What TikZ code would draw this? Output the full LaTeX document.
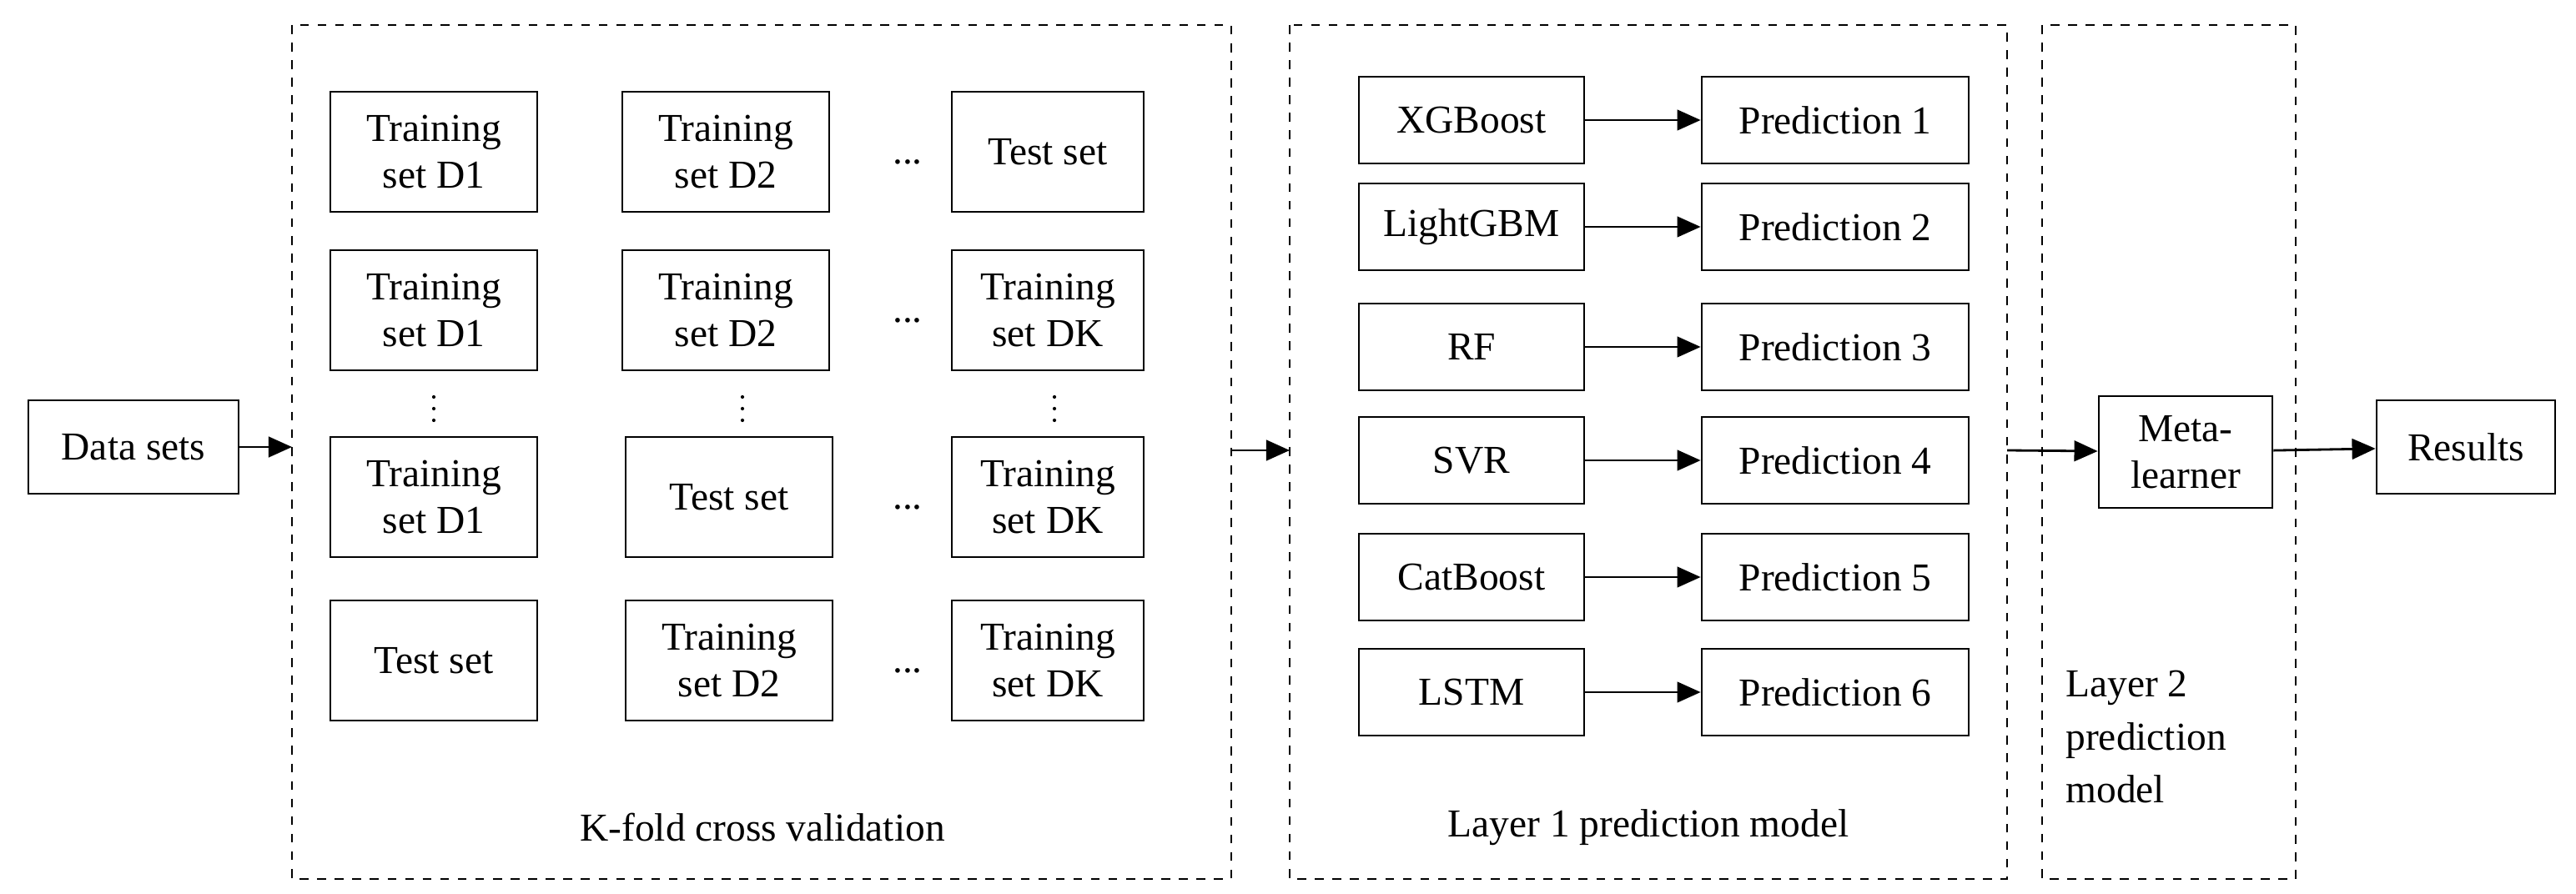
\documentclass[tikz,border=0pt]{standalone}
\usepackage{fontspec}
\setmainfont{Liberation Serif}
\usetikzlibrary{arrows.meta,positioning}
\tikzset{
  box/.style={draw, thick, align=center, inner sep=2pt, font=\fontsize{13.5}{16}\selectfont},
  cell/.style={box, minimum width=2.48cm, minimum height=1.44cm},
  model/.style={box, minimum width=2.7cm, minimum height=1.04cm},
  pred/.style={box, minimum width=3.2cm, minimum height=1.04cm},
  frame/.style={draw, thick, dashed},
  arr/.style={thick, -{Triangle[length=8pt,width=7pt]}},
  lbl/.style={font=\fontsize{13.5}{16}\selectfont}
}
\begin{document}
\begin{tikzpicture}[x=0.02cm, y=-0.02cm]
\useasboundingbox (0,0) rectangle (1544,536);
% frames
\draw[frame] (175,15) rectangle (738,527);
\draw[frame] (773,15) rectangle (1203,527);
\draw[frame] (1224,15) rectangle (1376,527);
% input
\node[box, minimum width=2.52cm, minimum height=1.12cm] (data) at (80,268) {Data sets};
\coordinate (kin) at (175,268);
\draw[arr] (data) -- (kin);
% K-fold grid
\node[cell] (a1) at (260,91) {Training\\set D1};
\node[cell] (b1) at (435,91) {Training\\set D2};
\node[cell, minimum width=2.3cm] (c1) at (628,91) {Test set};
\node[cell] (a2) at (260,186) {Training\\set D1};
\node[cell] (b2) at (435,186) {Training\\set D2};
\node[cell, minimum width=2.3cm] (c2) at (628,186) {Training\\set DK};
\node[cell] (a3) at (260,298) {Training\\set D1};
\node[cell] (b3) at (437,298) {Test set};
\node[cell, minimum width=2.3cm] (c3) at (628,298) {Training\\set DK};
\node[cell] (a4) at (260,396) {Test set};
\node[cell] (b4) at (437,396) {Training\\set D2};
\node[cell, minimum width=2.3cm] (c4) at (628,396) {Training\\set DK};
\foreach \r/\y in {1/91,2/186,3/298,4/396}
  \node[lbl] at (544,\y+6) {...};
% vertical dots
\foreach \x in {260,445,632}
  \foreach \d in {-7,0,7}
    \fill (\x,245+\d) circle (0.6pt);
\node[lbl] at (457,496) {K-fold cross validation};
% layer 1
\coordinate (kout) at (738,270);
\coordinate (lin) at (773,270);
\draw[arr] (kout) -- (lin);
\foreach \m/\n/\y in {XGBoost/1/72,LightGBM/2/136,RF/3/208,SVR/4/276,CatBoost/5/346,LSTM/6/415}{
  \node[model] (m\n) at (882,\y) {\m};
  \node[pred] (p\n) at (1100,\y) {Prediction \n};
  \draw[arr] (m\n) -- (p\n);
}
\node[lbl] at (988,496) {Layer 1 prediction model};
% layer 2
\node[box, minimum width=2.08cm, minimum height=1.34cm] (meta) at (1310,271) {Meta-\\learner};
\coordinate (lout) at (1203,270);
\draw[arr] (lout) -- (meta);
\node[lbl, align=left, anchor=north west] at (1232,396) {Layer 2\\[2pt]prediction\\[2pt]model};
\node[box, minimum width=2.14cm, minimum height=1.12cm] (res) at (1478,268) {Results};
\draw[arr] (meta) -- (res);
\end{tikzpicture}
\end{document}
